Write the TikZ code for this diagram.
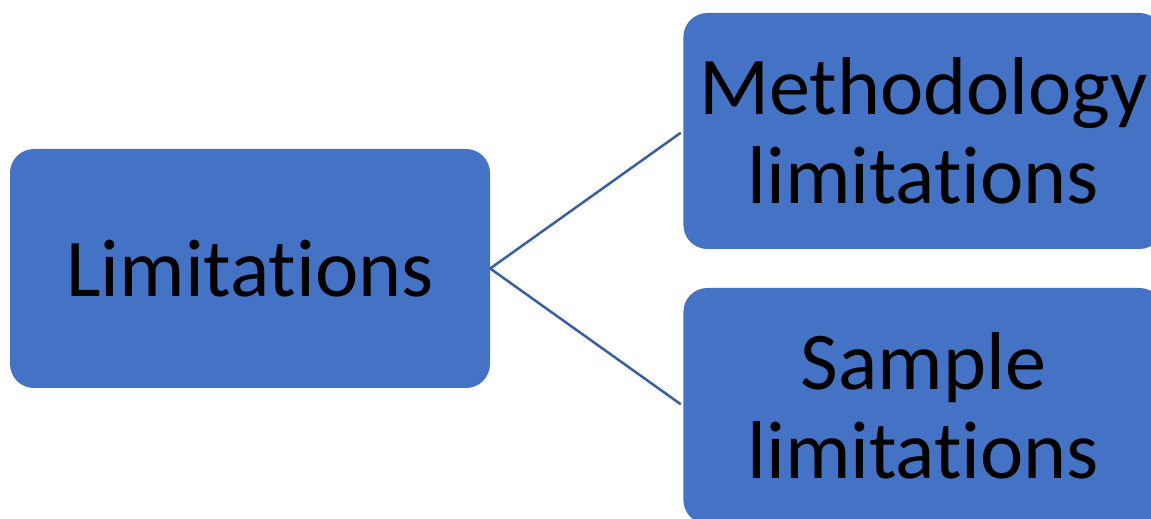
\documentclass[tikz,border=0pt]{standalone}
\usepackage{fontspec}
\setmainfont{Carlito}[Ligatures={NoCommon,NoContextual}]
\usetikzlibrary{positioning}
\definecolor{boxblue}{HTML}{4472C4}
\definecolor{linkblue}{HTML}{3A5FA0}
\begin{document}
\begin{tikzpicture}[x=1pt,y=1pt,
	every node/.style={align=center},
	limbox/.style={fill=boxblue,rounded corners=24pt,minimum width=480pt,inner sep=0pt,
		font=\fontsize{82}{89}\selectfont},
	link/.style={draw=linkblue,line width=2.5pt,shorten >=3pt}]
	\useasboundingbox (0,0) rectangle (1151,519);
	\clip (0,0) rectangle (1151,519);
	\node[limbox,minimum height=239pt] (lim) at (250,250.5) {Limitations};
	\node[limbox,minimum height=236pt,right=193pt of lim,yshift=137.5pt] (meth) {Methodology\\ limitations};
	\node[limbox,minimum height=236pt,right=193pt of lim,yshift=-137.5pt] (samp) {Sample\\ limitations};
	\draw[link] (lim.east) -- (meth.west);
	\draw[link] (lim.east) -- (samp.west);
\end{tikzpicture}
\end{document}
